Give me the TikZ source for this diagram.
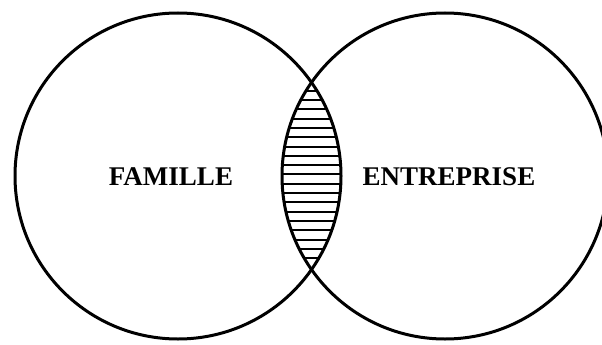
\documentclass[tikz,border=0pt]{standalone}
\usepackage{fontspec}
\setmainfont{Liberation Serif}
\begin{document}
\begin{tikzpicture}[x=1pt,y=-1pt,
  ring/.style={draw=black,line width=3pt,circle,minimum size=326pt,inner sep=0pt},
  label/.style={font=\fontsize{27}{30}\selectfont\bfseries,inner sep=0pt},
  hatch/.style={line width=2pt}]
\useasboundingbox (0,0) rectangle (602,345);
\clip (0,0) rectangle (602,345);
\fill[white] (0,0) rectangle (602,345);
% hatching in the lens
\begin{scope}
  \clip (178,176) circle [radius=163];
  \clip (445,176) circle [radius=163];
  \foreach \k in {0,...,18}{
    \draw[hatch] (250,{90.7+9.3*\k}) -- (370,{90.7+9.3*\k});
  }
\end{scope}
\node[ring] (famc) at (178,176) {};
\node[ring] (entc) at (445,176) {};
\node[label] (fam) at (171,177) {FAMILLE};
\node[label] (ent) at (449,177) {ENTREPRISE};
\end{tikzpicture}
\end{document}
